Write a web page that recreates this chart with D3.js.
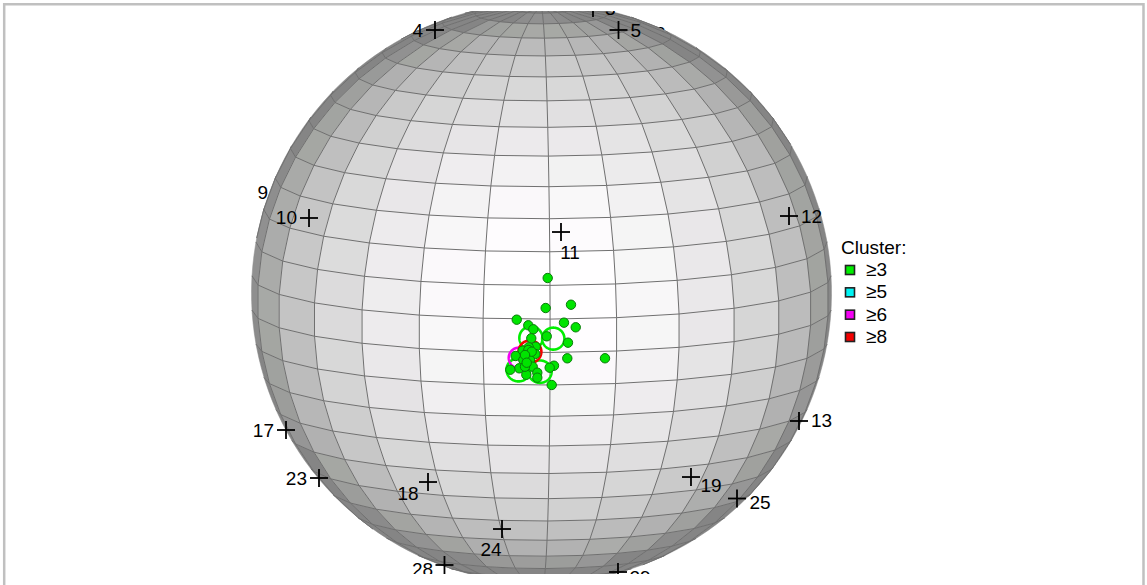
<!DOCTYPE html><html><head><meta charset="utf-8"><style>html,body{margin:0;padding:0;background:#fff}svg{display:block}text{font-family:"Liberation Sans",Arial,sans-serif;fill:#000}</style></head><body><script src="https://cdn.jsdelivr.net/npm/d3@7"></script><svg id="c" width="1147" height="585"></svg><script>
// Station sites: longitude / latitude in the chart's own spherical frame
const stationLon=[-80.87,52.78,116.28,-60.02,2.42,62.95,76.02,-85.60,-79.94,-29.61,36.15,63.55,-13.04,-57.27,49.65,-112.94,137.19];
const stationLat=[68.04,70.96,78.40,19.60,20.62,19.20,-24.67,-27.62,-38.40,-33.27,-32.85,-42.07,-46.17,-66.07,-70.26,17.70,57.84];
const stationName=["4","5","3","10","11","12","13","17","23","18","19","25","24","28","29","9","2"];
const stationSide=["L","R","R","L","S2","R","R","L","L","SW","SE","SE2","S1","SW2","R2","L9","R"];
// Event locations
const eventLon=[-0.45,-0.87,4.17,-6.61,-4.31,-3.32,2.75,5.08,3.54,-3.72,-0.67,-2.85,-4.23,-5.42,-4.57,-2.93,-6.82,-5.31,-3.98,3.42,10.99,0.78,-0.07,-3.45,-6.12,-7.92,-4.73,-2.54,-2.54,0.35,-4.98,-4.31,-3.64,-4.97,-4.64];
const eventLat=[11.46,5.53,6.14,3.19,2.10,1.31,2.60,1.65,-1.40,-0.49,-0.09,-2.17,-2.30,-2.99,-3.65,-3.64,-4.08,-4.88,-4.86,-4.55,-4.72,-6.03,-6.43,-6.23,-6.58,-6.89,-7.88,-7.45,-8.48,-10.00,-6.24,-2.84,-3.18,-3.86,-5.42];
// Cluster circles
const ringLon=[-3.78,0.63,-6.32,-2.00,-6.10,-3.98];
const ringLat=[-0.43,-0.57,-6.93,-7.25,-4.48,-3.18];
const ringSize=[2.3,2.2,2.35,2.3,2.1,2.25];
const ringClass=["≥3","≥3","≥3","≥3","≥6","≥8"];
// Legend
const clusterNames=["≥3","≥5","≥6","≥8"];
const clusterColors=["#00ee00","#00f4f4","#f400f4","#f40000"];
// Shading: facet brightness against cosine of the facet's view angle
const shadeCos=[0,.15,.3,.35,.5,.54,.67,.72,.85,.92,.95,.98,1];
const shadeCol=["#858585","#969696","#a5a7a3","#afafaf","#c0c0c0","#c8c8c8","#d8d8d8","#dddcdd","#eeecee","#f6f6f6","#fbf9fb","#fffdff","#ffffff"];

const LON_STEP=360/27, LAT_STEP=180/27;
const svg=d3.select("#c");
svg.append("defs").append("clipPath").attr("id","plot").append("rect").attr("x",0).attr("y",11).attr("width",1147).attr("height",563);

svg.append("path").attr("d","M4.2 590V4.2H1143.5V590").attr("fill","none").attr("stroke","#c0c0c0").attr("stroke-width",2.5);

const projection=d3.geoOrthographic().scale(290).translate([541.5,293]).rotate([1.7,-8.5]).precision(0);
const path=d3.geoPath(projection);
const shade=d3.scaleLinear().domain(shadeCos).range(shadeCol).clamp(true);
const viewCentre=[-1.7,8.5];
const plot=svg.append("g").attr("clip-path","url(#plot)");

const FS=19;
const sideOffset={L:[-12,6.5,"end"],L9:[-16,7.5,"end"],R:[12,6.5,"start"],S1:[-11,27,"middle"],S2:[9,27,"middle"],SW:[-20,18,"middle"],SE:[20,15,"middle"],SE2:[23,11,"middle"],SW2:[-22,11,"middle"],R2:[22,12,"middle"]};
const stations=stationName.map((name,i)=>({name,lon:stationLon[i],lat:stationLat[i],side:stationSide[i],
  pos:projection([stationLon[i],stationLat[i]]),
  front:d3.geoDistance([stationLon[i],stationLat[i]],viewCentre)<Math.PI/2}));
const drawLabel=(g,d)=>{const o=sideOffset[d.side];
  g.append("text").attr("x",d.pos[0]+o[0]).attr("y",d.pos[1]+o[1]).attr("text-anchor",o[2]).attr("font-size",FS).text(d.name);};

// hidden stations' labels sit behind the sphere
stations.filter(d=>!d.front).forEach(d=>drawLabel(plot,d));

// sphere facets
const facing=(lon,lat)=>{const p=projection([lon,lat]);const X=(p[0]-541.5)/290,Y=(p[1]-293)/290;
  return Math.sqrt(Math.max(0,1-X*X-1.1*Y*Y));};
const cells=[];
d3.range(27).forEach(i=>d3.range(27).forEach(j=>{
  const a=(i-13)*LON_STEP,b=a+LON_STEP,c=-90+j*LAT_STEP,e=c+LAT_STEP;
  cells.push({a,b,c,e,k:facing((a+b)/2,(c+e)/2)});
}));
plot.append("g").selectAll("path").data(cells).join("path")
  .attr("d",d=>path({type:"Polygon",coordinates:[[[d.a,d.c],[d.a,d.e],[d.b,d.e],[d.b,d.c],[d.a,d.c]]]}))
  .attr("fill",d=>shade(d.k))
  .attr("stroke",d=>shade(d.k)).attr("stroke-width",.5);
// grid lines
const gridCoords=[];
d3.range(27).forEach(i=>gridCoords.push(d3.range(0,27.01).map(j=>[(i-13)*LON_STEP,-90+j*LAT_STEP])));
d3.range(1,27).forEach(j=>gridCoords.push(d3.range(0,27.01).map(i=>[(i-13)*LON_STEP,-90+j*LAT_STEP])));
plot.append("path").datum({type:"MultiLineString",coordinates:gridCoords}).attr("d",path)
  .attr("fill","none").attr("stroke","#707070").attr("stroke-width",1);

// cluster rings
const ringColor=d3.scaleOrdinal().domain(clusterNames).range(clusterColors);
const circle=d3.geoCircle();
plot.append("g").selectAll("path").data(ringLon.map((lon,i)=>({lon,lat:ringLat[i],size:ringSize[i],cls:ringClass[i]}))).join("path")
  .attr("d",d=>path(circle.center([d.lon,d.lat]).radius(d.size)()))
  .attr("fill","none").attr("stroke",d=>ringColor(d.cls)).attr("stroke-width",2.6);

// events
plot.append("g").selectAll("circle").data(eventLon.map((lon,i)=>projection([lon,eventLat[i]]))).join("circle")
  .attr("cx",d=>d[0]).attr("cy",d=>d[1]).attr("r",4.7)
  .attr("fill","#00e400").attr("stroke","#0a7a0a").attr("stroke-width",1);

// stations
const front=stations.filter(d=>d.front);
const cross=plot.append("g");
front.forEach(d=>{
  cross.append("line").attr("x1",d.pos[0]-9).attr("x2",d.pos[0]+9).attr("y1",d.pos[1]).attr("y2",d.pos[1]).attr("stroke","#000").attr("stroke-width",1.8);
  cross.append("line").attr("x1",d.pos[0]).attr("x2",d.pos[0]).attr("y1",d.pos[1]-9).attr("y2",d.pos[1]+9).attr("stroke","#000").attr("stroke-width",1.8);
  drawLabel(cross,d);
});

// legend
const legend=svg.append("g");
legend.append("text").attr("x",841).attr("y",254).attr("font-size",FS).text("Cluster:");
const legendY=d3.scalePoint().domain(clusterNames).range([270,337]);
clusterNames.forEach((n,i)=>{
  legend.append("rect").attr("x",845.5).attr("y",legendY(n)-4.5).attr("width",9).attr("height",9)
    .attr("fill",clusterColors[i]).attr("stroke","#222").attr("stroke-width",1.6);
  legend.append("text").attr("x",866).attr("y",legendY(n)+6).attr("font-size",FS).text(n);
});
</script></body></html>
